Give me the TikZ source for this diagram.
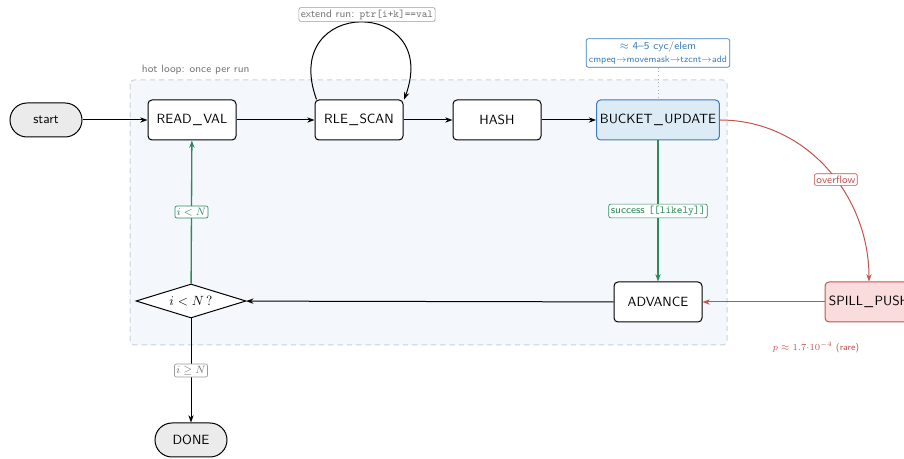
\documentclass[tikz,border=0pt]{standalone}
\usetikzlibrary{arrows.meta,shapes.geometric}
\definecolor{cgreen}{HTML}{2E8A57}
\definecolor{cred}{HTML}{C4524F}
\definecolor{cblue}{HTML}{3C7DBA}
\definecolor{bluefill}{HTML}{DCEBF6}
\definecolor{redfill}{HTML}{FADCDC}
\definecolor{termfill}{HTML}{EBEBEB}
\definecolor{loopfill}{HTML}{F4F8FC}
\definecolor{loopdraw}{HTML}{C3D3E3}
\definecolor{lgray}{HTML}{777777}
\newcommand{\us}{\kern1pt\_\kern1pt}
\begin{document}
\begin{tikzpicture}[x=0.75pt,y=0.75pt,font=\sffamily,
  >={Stealth[length=5.5pt,width=4pt]},
  every path/.style={line width=0.75pt},
  proc/.style={draw,rounded corners=3pt,minimum width=66pt,minimum height=30pt,inner xsep=2.5pt,fill=white},
  term/.style={draw,rounded corners=12.75pt,minimum width=54pt,minimum height=25.5pt,fill=termfill},
  dia/.style={draw,diamond,aspect=3.2,inner sep=0pt,minimum width=82.5pt,minimum height=25.5pt,fill=white},
  lbl/.style={draw,rounded corners=1.5pt,inner sep=1.5pt,fill=white,font=\sffamily\footnotesize,line width=0.5pt},
  gline/.style={cgreen,line width=1pt},
  rline/.style={cred,line width=0.75pt},
]
\useasboundingbox (0,0) rectangle (904,-459);
% hot loop region
\draw[dashed,dash pattern=on 4pt off 3pt,draw=loopdraw,fill=loopfill,rounded corners=3pt] (130,-80) rectangle (727,-345);
\node[anchor=base west,font=\sffamily\footnotesize,text=lgray] (hl) at (137,-73) {hot loop: once per run};

% nodes
\node[term] (start) at (46,-120) {start};
\node[proc] (read) at (192,-120) {READ\us VAL};
\node[proc] (rle) at (359,-120) {RLE\us SCAN};
\node[proc] (hash) at (497,-120) {HASH};
\node[proc,fill=bluefill,draw=cblue] (bucket) at (658,-120) {BUCKET\us UPDATE};
\node[proc] (adv) at (658,-302) {ADVANCE};
\node[proc,fill=redfill,draw=cred] (spill) at (869,-302) {SPILL\us PUSH};
\node[dia] (dec) at (191,-301) {$i<N\,?$};
\node[term] (done) at (191,-440) {DONE};

% annotation
\node[draw=cblue,text=cblue,fill=white,rounded corners=1.5pt,align=center,inner sep=2pt,line width=0.5pt] (ann) at (658,-53)
  {\footnotesize $\approx$ 4--5 cyc/elem\\[-2pt] \scriptsize cmpeq$\to$movemask$\to$tzcnt$\to$add};
\draw[dotted,draw=gray!60] (ann.south) -- (bucket.north);

% edges
\draw[->] (start) -- (read);
\draw[->] (read) -- (rle);
\draw[->] (rle) -- (hash);
\draw[->] (hash) -- (bucket);
\draw[->] ([xshift=1.5pt]rle.north west) to[out=110,in=70,looseness=3.2]
  node[pos=0.5,anchor=south,xshift=5pt,yshift=0.5pt,lbl,draw=gray!80,text=lgray] (ext) {extend run: \texttt{ptr[i+k]==val}}
  ([xshift=0.5pt]rle.north east);
\draw[->,gline] (bucket) -- node[lbl,draw=cgreen,text=cgreen] (succ) {success \texttt{[[likely]]}} (adv);
\draw[->,rline] (bucket.east) to[out=0,in=90]
  node[pos=0.56,lbl,draw=cred,text=cred] (ovf) {overflow} (spill.north);
\draw[->,rline] (spill) -- (adv);
\draw[->] (adv) -- (dec);
\draw[->,gline] (dec) -- node[lbl,draw=cgreen,text=cgreen] (lt) {$i<N$} (read);
\draw[->] (dec) -- node[lbl,draw=gray!80,text=lgray] (ge) {$i\geq N$} (done);

\node[text=cred,font=\sffamily\scriptsize] (prob) at (816,-347) {$p\approx 1.7{\cdot}10^{-4}$ (rare)};
\end{tikzpicture}
\end{document}
